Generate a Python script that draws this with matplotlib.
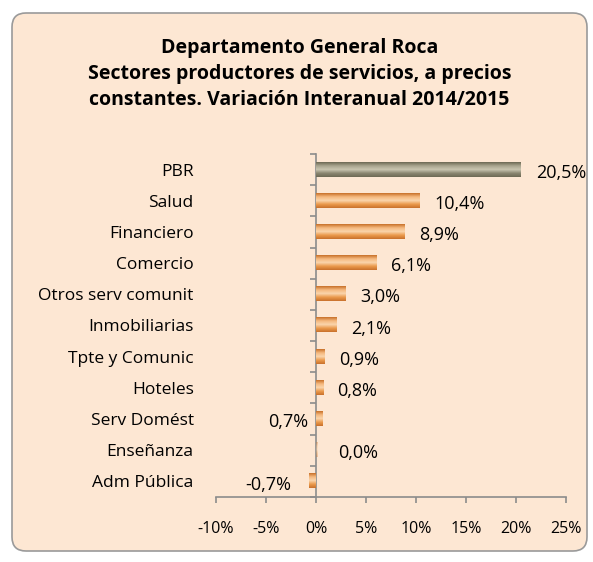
import matplotlib.pyplot as plt
from matplotlib.patches import FancyBboxPatch
from matplotlib.colors import LinearSegmentedColormap
import numpy as np

# data
sectores = ['PBR', 'Salud', 'Financiero', 'Comercio', 'Otros serv comunit',
            'Inmobiliarias', 'Tpte y Comunic', 'Hoteles', 'Serv Domést',
            'Enseñanza', 'Adm Pública']
variacion = [20.5, 10.4, 8.9, 6.1, 3.0, 2.1, 0.9, 0.8, 0.7, 0.0, -0.7]
etiquetas = ['20,5%', '10,4%', '8,9%', '6,1%', '3,0%', '2,1%', '0,9%',
             '0,8%', '0,7%', '0,0%', '-0,7%']
xticks = [-10, -5, 0, 5, 10, 15, 20, 25]

# label offsets (in % units) from bar end, Excel placed a few oddly
lab_off = [1.5, 1.4, 1.4, 1.4, 1.4, 1.4, 1.4, 1.3, -1.5, 2.2, -1.8]

plt.rcParams['font.family'] = ['Open Sans', 'DejaVu Sans']

fig = plt.figure(figsize=(5.93, 5.62), dpi=100)
fig.patch.set_facecolor('white')

# background panel
bg = fig.add_axes([0, 0, 1, 1], zorder=-5)
bg.set_xlim(0, 593)
bg.set_ylim(562, 0)
bg.axis('off')
panel = FancyBboxPatch((12, 13), 575, 538, boxstyle='round,pad=0,rounding_size=14',
                       facecolor='#FDE7D3', edgecolor='#9A9A9A', linewidth=1.2)
bg.add_patch(panel)
grad = np.linspace(1, 0, 60).reshape(-1, 1)
im = bg.imshow(np.dstack([np.ones((60, 1)), np.ones((60, 1)), np.ones((60, 1)), grad * 0.85]),
               extent=(12, 587, 50, 14), aspect='auto', interpolation='bicubic')
im.set_clip_path(panel)
side = np.linspace(0, 1, 30).reshape(1, -1)
im2 = bg.imshow(np.dstack([np.full((1, 30), 0.93), np.full((1, 30), 0.80), np.full((1, 30), 0.68), side * 0.5]),
                extent=(560, 587, 551, 13), aspect='auto', interpolation='bicubic')
im2.set_clip_path(panel)

fig.text(0.505, 0.933, 'Departamento General Roca\nSectores productores de servicios, a precios\nconstantes. Variación Interanual 2014/2015',
         ha='center', va='top', fontsize=14, fontweight='bold', linespacing=1.42, color='black')

ax = fig.add_axes([0.3642, 0.1157, 0.5902, 0.6103])
ax.patch.set_alpha(0)
y = np.arange(len(sectores))
colores = ['#8A8670'] + ['#E8923F'] * (len(sectores) - 1)
bars = ax.barh(y, variacion, height=0.45, color=colores, edgecolor='none', zorder=2)

# gradient shading on each bar
cm_gris = LinearSegmentedColormap.from_list('g', ['#6E6A55', '#A9A58F', '#C9C5B0', '#8A8670', '#6E6A55'])
cm_nar = LinearSegmentedColormap.from_list('o', ['#C8722A', '#F5B87E', '#FAD5AC', '#EB9A4C', '#C9722C'])
for b, c in zip(bars, colores):
    x0, y0 = b.get_x(), b.get_y()
    w, h = b.get_width(), b.get_height()
    if w == 0:
        w = 0.12
    cmap = cm_gris if c == '#8A8670' else cm_nar
    g = np.linspace(0, 1, 50).reshape(-1, 1)
    img = ax.imshow(g, cmap=cmap, extent=(x0, x0 + w, y0 + h, y0), aspect='auto', zorder=3)
    if b.get_width() == 0:
        img.set_alpha(0.35)

for yi, v, t, o in zip(y, variacion, etiquetas, lab_off):
    ha = 'left' if o > 0 else 'right'
    ax.text(v + o, yi + 0.1, t, ha=ha, va='center', fontsize=13, color='black', zorder=4)

ax.set_xlim(-10, 25)
ax.set_ylim(len(sectores) - 0.5, -0.5)
ax.set_xticks(xticks)
ax.set_xticklabels([f'{t}%' for t in xticks])
ax.set_yticks(y)
ax.set_yticklabels(sectores)
ax.set_yticks(np.arange(len(sectores) + 1) - 0.5, minor=True)

ax.spines['left'].set_position(('data', 0))
ax.spines['right'].set_visible(False)
ax.spines['top'].set_visible(False)
for s in ['left', 'bottom']:
    ax.spines[s].set_color('#8C8C8C')
    ax.spines[s].set_linewidth(1.2)

ax.tick_params(axis='y', which='major', length=0, pad=88, labelsize=12.5)
ax.tick_params(axis='y', which='minor', length=4, color='#8C8C8C', width=1.2)
ax.tick_params(axis='x', which='major', length=4, direction='out', color='#8C8C8C', width=1.2, pad=13, labelsize=11.5)

fig.savefig('out.png', dpi=100)
